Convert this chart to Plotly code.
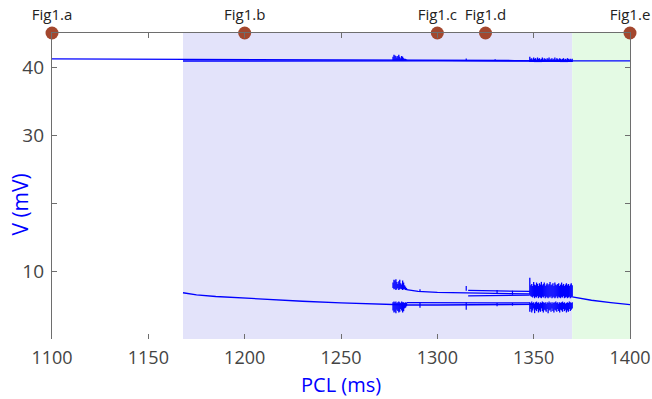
import plotly.graph_objects as go

# ---------------- data ----------------
X_TICKS = [1100, 1150, 1200, 1250, 1300, 1350, 1400]
Y_TICKS = [10, 20, 30, 40]
Y_TICKTEXT = ["10", "", "30", "40"]

# annotated PCL values (markers on top border)
FIG_PCL = [1100, 1200, 1300, 1325, 1400]
FIG_LABELS = ["Fig1.a", "Fig1.b", "Fig1.c", "Fig1.d", "Fig1.e"]

# shaded regimes
BLUE_REGION = [1168, 1370]
GREEN_REGION = [1370, 1400]

# upper branch (~41 mV)
PCL_UP_A = [1100, 1130, 1168, 1200, 1250, 1300, 1340, 1370]
V_UP_A = [41.2, 41.18, 41.15, 41.12, 41.05, 41.0, 40.95, 40.9]
PCL_UP_B = [1168, 1200, 1250, 1300, 1340, 1370]
V_UP_B = [40.88, 40.9, 40.92, 40.9, 40.88, 40.85]
PCL_UP_C = [1370, 1385, 1400]
V_UP_C = [40.9, 40.9, 40.9]

# lower branch, period-1
PCL_LO1 = [1168, 1175, 1185, 1200, 1215, 1230, 1250, 1270, 1285, 1300, 1320, 1340, 1350]
V_LO1 = [6.8, 6.5, 6.25, 6.0, 5.8, 5.55, 5.3, 5.1, 5.0, 5.0, 5.05, 5.1, 5.1]
PCL_LO_GREEN = [1370, 1375, 1380, 1390, 1400]
V_LO_GREEN = [6.2, 5.9, 5.7, 5.35, 5.05]

# period-2 / period-4 branches
PCL_P2_UP = [1284, 1290, 1300, 1315, 1330, 1348]
V_P2_UP = [7.25, 7.0, 6.85, 6.75, 6.7, 6.65]
PCL_P2_LO = [1284, 1300, 1315, 1330, 1348]
V_P2_LO = [5.35, 5.3, 5.3, 5.3, 5.3]
PCL_P4_A = [1316, 1330, 1348]
V_P4_A = [7.15, 7.05, 7.0]
PCL_P4_B = [1316, 1330, 1348]
V_P4_B = [6.35, 6.4, 6.45]

# short vertical transients
SPIKE_PCL = [1291, 1315, 1331, 1339, 1291, 1315, 1331, 1339, 1315, 1330]
SPIKE_LO = [6.9, 7.1, 6.6, 6.5, 4.6, 4.3, 4.8, 4.9, 41.0, 40.95]
SPIKE_HI = [7.3, 7.8, 7.2, 7.1, 5.4, 5.4, 5.3, 5.3, 41.25, 41.15]

# chaotic window A
CA_X = [1277.0, 1277.5, 1278.0, 1278.5, 1279.0, 1279.5, 1280.0, 1280.5,
        1281.0, 1281.5, 1282.0, 1282.5, 1283.0, 1283.5, 1284.0]
CA_UP_HI = [8.3, 8.7, 8.6, 8.8, 8.4, 8.1, 8.5, 8.7, 8.2, 8.0, 8.6, 8.3, 7.9, 7.7, 7.5]
CA_UP_LO = [7.5, 7.3, 7.4, 7.2, 7.3, 7.5, 7.2, 7.3, 7.4, 7.3, 7.2, 7.3, 7.3, 7.2, 7.2]
CA_LO_HI = [5.4, 5.5, 5.4, 5.5, 5.3, 5.4, 5.5, 5.4, 5.3, 5.5, 5.4, 5.4, 5.3, 5.4, 5.3]
CA_LO_LO = [4.2, 3.9, 4.0, 3.8, 4.3, 4.1, 3.9, 4.0, 4.4, 4.2, 3.9, 4.1, 4.5, 4.6, 4.8]
CA_TOP_HI = [41.5, 41.8, 41.7, 41.6, 41.4, 41.6, 41.8, 41.5, 41.3, 41.6, 41.5, 41.3, 41.2, 41.2, 41.1]
CA_TOP_LO = 40.95

# chaotic window B
CB_X = [1348.0, 1348.5, 1349.0, 1349.5, 1350.0, 1350.5, 1351.0, 1351.5, 1352.0,
        1352.5, 1353.0, 1353.5, 1354.0, 1354.5, 1355.0, 1355.5, 1356.0, 1356.5,
        1357.0, 1357.5, 1358.0, 1358.5, 1359.0, 1359.5, 1360.0, 1360.5, 1361.0,
        1361.5, 1362.0, 1362.5, 1363.0, 1363.5, 1364.0, 1364.5, 1365.0, 1365.5,
        1366.0, 1366.5, 1367.0, 1367.5, 1368.0, 1368.5, 1369.0, 1369.5, 1370.0]
CB_UP_HI = [9.0, 7.9, 8.1, 7.8, 8.4, 8.0, 7.9, 8.3, 8.1, 7.8, 8.2, 8.0, 8.4, 7.9, 8.1,
            8.3, 7.8, 8.0, 8.2, 7.9, 8.1, 8.4, 7.9, 8.0, 8.2, 7.8, 8.3, 8.0, 7.9, 8.1,
            8.2, 7.8, 8.0, 8.3, 7.9, 8.1, 7.8, 8.0, 8.2, 7.9, 8.1, 7.8, 8.0, 8.2, 7.9]
CB_UP_LO = [6.5, 6.3, 6.2, 6.1, 6.3, 6.0, 6.2, 6.1, 6.3, 6.0, 6.2, 6.1, 6.0, 6.2, 6.1,
            6.3, 6.0, 6.2, 6.1, 6.0, 6.2, 6.1, 6.3, 6.0, 6.1, 6.2, 6.0, 6.1, 6.3, 6.0,
            6.2, 6.1, 6.0, 6.2, 6.1, 6.3, 6.0, 6.1, 6.2, 6.0, 6.1, 6.2, 6.0, 6.1, 6.2]
CB_LO_HI = [5.4, 5.3, 5.5, 5.3, 5.4, 5.2, 5.4, 5.5, 5.3, 5.4, 5.2, 5.4, 5.3, 5.5, 5.4,
            5.3, 5.4, 5.2, 5.4, 5.3, 5.5, 5.3, 5.4, 5.2, 5.4, 5.3, 5.4, 5.5, 5.3, 5.4,
            5.2, 5.4, 5.3, 5.4, 5.5, 5.3, 5.4, 5.2, 5.3, 5.4, 5.3, 5.5, 5.4, 5.3, 5.4]
CB_LO_LO = [4.0, 4.4, 3.9, 4.2, 4.5, 3.8, 4.3, 4.1, 4.4, 3.9, 4.2, 4.0, 4.5, 4.1, 3.9,
            4.3, 4.2, 4.0, 4.4, 3.8, 4.2, 4.3, 4.0, 4.5, 4.1, 3.9, 4.3, 4.2, 4.0, 4.4,
            4.1, 3.9, 4.3, 4.2, 4.0, 4.4, 4.1, 4.3, 3.9, 4.2, 4.0, 4.4, 4.1, 4.3, 4.5]
CB_TOP_HI = [41.5, 41.2, 41.3, 41.1, 41.4, 41.2, 41.3, 41.1, 41.4, 41.2, 41.3, 41.1, 41.2, 41.4, 41.1,
             41.3, 41.2, 41.1, 41.3, 41.2, 41.4, 41.1, 41.2, 41.3, 41.1, 41.2, 41.4, 41.1, 41.3, 41.2,
             41.1, 41.3, 41.2, 41.1, 41.2, 41.3, 41.1, 41.2, 41.1, 41.3, 41.2, 41.1, 41.2, 41.1, 41.2]
CB_TOP_LO = 40.72

X_RANGE = [1100, 1400]
Y_RANGE = [0, 45]

# ---------------- figure ----------------
BLUE = "#0000FF"
AXIS_GREY = "#6E6E6E"
LW = 1.3
fig = go.Figure()


def line(xs, ys):
    fig.add_trace(go.Scatter(x=xs, y=ys, mode="lines",
                             line=dict(color=BLUE, width=LW), hoverinfo="skip"))


def spans(xs, lo, hi, width=1.0):
    px, py = [], []
    for i, x in enumerate(xs):
        l = lo[i] if isinstance(lo, list) else lo
        px += [x, x, None]
        py += [l, hi[i], None]
    fig.add_trace(go.Scatter(x=px, y=py, mode="lines",
                             line=dict(color=BLUE, width=width), hoverinfo="skip"))


for xs, ys in [(PCL_UP_A, V_UP_A), (PCL_UP_B, V_UP_B), (PCL_UP_C, V_UP_C),
               (PCL_LO1, V_LO1), (PCL_LO_GREEN, V_LO_GREEN),
               (PCL_P2_UP, V_P2_UP), (PCL_P2_LO, V_P2_LO),
               (PCL_P4_A, V_P4_A), (PCL_P4_B, V_P4_B)]:
    line(xs, ys)

spans(SPIKE_PCL, SPIKE_LO, SPIKE_HI, 1.2)
spans(CA_X, CA_UP_LO, CA_UP_HI, 1.3)
spans(CA_X, CA_LO_LO, CA_LO_HI, 1.3)
spans(CA_X, CA_TOP_LO, CA_TOP_HI, 1.3)
spans(CB_X, CB_UP_LO, CB_UP_HI, 1.3)
spans(CB_X, CB_LO_LO, CB_LO_HI, 1.3)
spans(CB_X, CB_TOP_LO, CB_TOP_HI, 1.3)

# markers on top border (drawn on the top x axis)
fig.add_trace(go.Scatter(
    x=FIG_PCL, y=[Y_RANGE[1]] * len(FIG_PCL), mode="markers+text",
    xaxis="x2",
    marker=dict(color="#A3472E", size=13),
    text=FIG_LABELS, textposition="top center",
    textfont=dict(size=15, color="#222222", family="Open Sans"),
    cliponaxis=False, hoverinfo="skip"))

shapes = [
    dict(type="rect", xref="x", yref="y", x0=BLUE_REGION[0], x1=BLUE_REGION[1],
         y0=Y_RANGE[0], y1=Y_RANGE[1], fillcolor="#E3E3FA", line=dict(width=0), layer="below"),
    dict(type="rect", xref="x", yref="y", x0=GREEN_REGION[0], x1=GREEN_REGION[1],
         y0=Y_RANGE[0], y1=Y_RANGE[1], fillcolor="#E4FAE4", line=dict(width=0), layer="below"),
]

fig.update_layout(
    width=652, height=399,
    margin=dict(l=52, r=22, t=33, b=60),
    plot_bgcolor="white", paper_bgcolor="white",
    showlegend=False,
    font=dict(family="Open Sans", color="#444444"),
    shapes=shapes,
    xaxis=dict(range=X_RANGE, tickvals=X_TICKS, ticks="inside", ticklen=5,
               tickcolor=AXIS_GREY, showline=False,
               showgrid=False, zeroline=False, automargin=False,
               ticklabelstandoff=6,
               tickfont=dict(size=18, color="#444444")),
    xaxis2=dict(range=X_RANGE, tickvals=X_TICKS, ticks="inside", ticklen=5,
                tickcolor=AXIS_GREY, showline=True, linecolor=AXIS_GREY, linewidth=1.2,
                overlaying="x", side="top", anchor="y", matches="x",
                showticklabels=False, showgrid=False, zeroline=False, automargin=False),
    yaxis=dict(range=Y_RANGE, tickvals=Y_TICKS, ticktext=Y_TICKTEXT,
               ticks="inside", ticklen=5, tickcolor=AXIS_GREY,
               showline=True, linecolor=AXIS_GREY, linewidth=1.2, mirror="ticks",
               showgrid=False, zeroline=False, automargin=False,
               ticklabelstandoff=3,
               tickfont=dict(size=19, color="#444444")),
    annotations=[
        dict(text="PCL (ms)", xref="paper", yref="paper", x=0.5, y=-0.148,
             xanchor="center", yanchor="middle", showarrow=False,
             font=dict(size=20, color="#0000FF")),
        dict(text="V (mV)", xref="paper", yref="paper", x=-0.055, y=0.44,
             xanchor="center", yanchor="middle", textangle=-90, showarrow=False,
             font=dict(size=21, color="#0000FF")),
    ],
)

fig.write_html("out.html")
